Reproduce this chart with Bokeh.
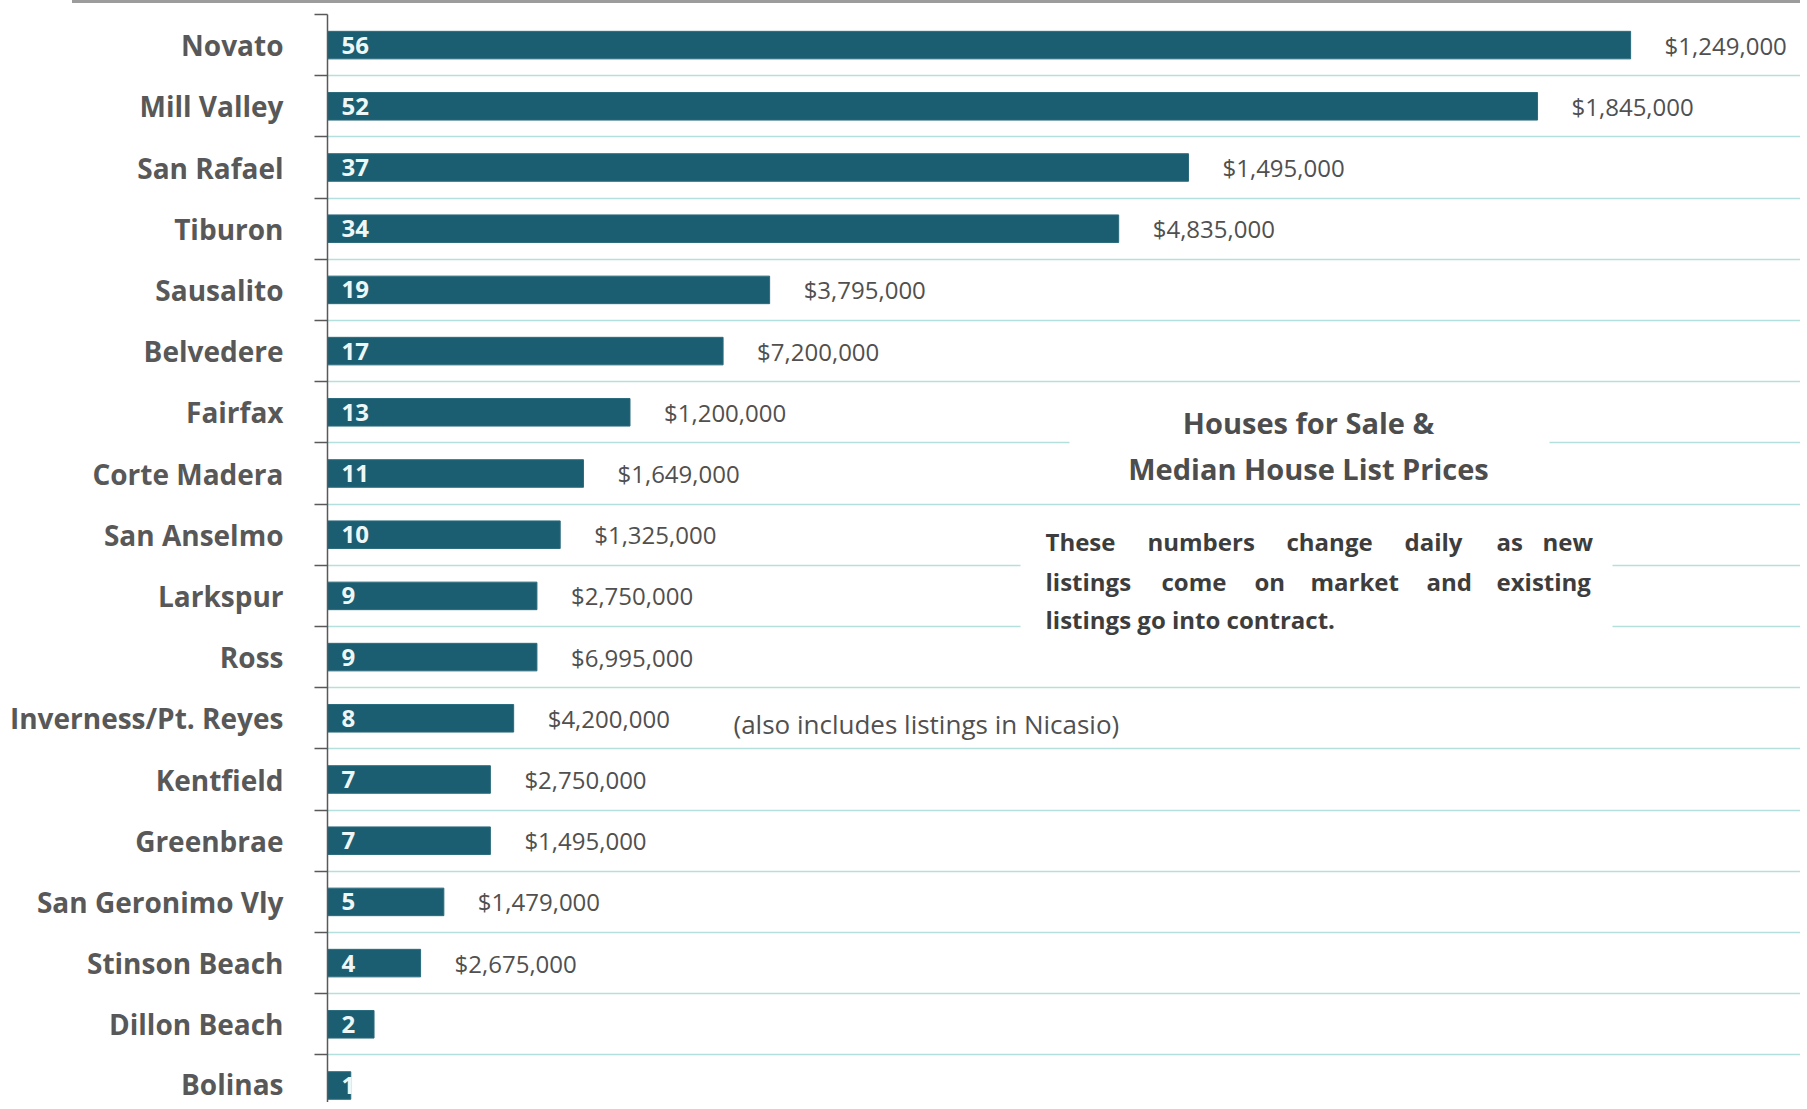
from bokeh.plotting import figure
from bokeh.models import ColumnDataSource, Range1d, FixedTicker, BoxAnnotation, Label
from bokeh.embed import file_html
from bokeh.resources import INLINE
from bokeh.core.properties import value

# ---------------- data ----------------
towns = ["Novato", "Mill Valley", "San Rafael", "Tiburon", "Sausalito", "Belvedere",
         "Fairfax", "Corte Madera", "San Anselmo", "Larkspur", "Ross",
         "Inverness/Pt. Reyes", "Kentfield", "Greenbrae", "San Geronimo Vly",
         "Stinson Beach", "Dillon Beach", "Bolinas"]
listings = [56, 52, 37, 34, 19, 17, 13, 11, 10, 9, 9, 8, 7, 7, 5, 4, 2, 1]
median_prices = [1249000, 1845000, 1495000, 4835000, 3795000, 7200000, 1200000,
                 1649000, 1325000, 2750000, 6995000, 4200000, 2750000, 1495000,
                 1479000, 2675000, None, None]

title_lines = ["Houses for Sale &", "Median House List Prices"]
note_lines = [["These", "numbers", "change", "daily", "as", "new"],
              ["listings", "come", "on", "market", "and", "existing"],
              ["listings go into contract."]]
nicasio_note = "(also includes listings in Nicasio)"

# ---------------- layout helpers ----------------
FONT = value("Open Sans")
PX_PER_UNIT = 23.27
ROW_PX = 61.2
AXIS_PX = 327      # page x of the value axis
TOP_PX = 14        # page y of the first row boundary
BAND_X = 72        # grey rule along the top starts here
W, H = 1800, 1102


def px_x(px):
    return (px - AXIS_PX) / PX_PER_UNIT


def px_y(py):
    return (py - TOP_PX) / ROW_PX - 0.5


idx = list(range(len(towns)))
src = ColumnDataSource(dict(
    idx=idx,
    listings=listings,
    count_text=[str(v) for v in listings],
    price_text=[f"${p:,}" if p else "" for p in median_prices],
))

p = figure(width=W, height=H, output_backend="svg", toolbar_location=None,
           x_range=Range1d(0, px_x(W)),
           y_range=Range1d(px_y(H), -0.5),
           min_border_left=AXIS_PX, min_border_right=0,
           min_border_top=TOP_PX, min_border_bottom=0)
p.outline_line_color = None
p.background_fill_color = "white"
p.border_fill_color = None
# grey rule along the top of the page, drawn as the host element's background
p.styles = {
    "background": f"linear-gradient(#9c9c9c, #9c9c9c) no-repeat {BAND_X}px 0px / "
                  f"{W - BAND_X}px 3px, white",
}

# axes / grid
ticker = FixedTicker(ticks=idx, minor_ticks=[i - 0.5 for i in range(len(towns) + 1)])
p.yaxis.ticker = ticker
p.yaxis.major_label_overrides = {i: t for i, t in enumerate(towns)}
p.yaxis.major_tick_out = 0
p.yaxis.major_tick_in = 0
p.yaxis.minor_tick_out = 13
p.yaxis.minor_tick_in = 0
p.yaxis.minor_tick_line_color = "#595959"
p.yaxis.minor_tick_line_width = 1.5
p.yaxis.axis_line_color = "#595959"
p.yaxis.axis_line_width = 1.5
p.yaxis.major_label_standoff = 31
p.yaxis.major_label_text_font = "Open Sans"
p.yaxis.major_label_text_font_style = "bold"
p.yaxis.major_label_text_font_size = "28px"
p.yaxis.major_label_text_color = "#585858"
p.xaxis.visible = False

p.xgrid.grid_line_color = None
p.ygrid.ticker = ticker
p.ygrid.grid_line_color = None
p.ygrid.minor_grid_line_color = "#b3dfdc"
p.ygrid.minor_grid_line_width = 1.5

# bars
p.hbar(y="idx", left=0, right="listings", height=0.45, source=src,
       fill_color="#1b5e72", line_color="#2a6b7d", line_width=1)

# value labels inside bars
p.text(x=0, y="idx", text="count_text", source=src, x_offset=14,
       text_align="left", text_baseline="middle", text_font=FONT,
       text_font_style="bold", text_font_size="24px", text_color="#eef7f7")

# price labels
p.text(x="listings", y="idx", text="price_text", source=src, x_offset=34,
       text_align="left", text_baseline="middle", text_font=FONT,
       text_font_size="24px", text_color="#505050")

# white boxes behind the text block
p.add_layout(BoxAnnotation(left=px_x(1069), right=px_x(1549), top=6.3, bottom=6.7,
                           fill_color="white", fill_alpha=1, line_color=None))
p.add_layout(BoxAnnotation(left=px_x(1020), right=px_x(1612), top=8.3, bottom=9.7,
                           fill_color="white", fill_alpha=1, line_color=None))

# title
for line, py in zip(title_lines, [422, 468]):
    p.add_layout(Label(x=px_x(1308), y=px_y(py), text=line, text_align="center",
                       text_baseline="middle", text_font="Open Sans",
                       text_font_style="bold", text_font_size="29px",
                       text_color="#4d4d4d"))

# justified note text
word_starts = [[1045, 1147, 1286, 1404, 1496, 1542],
               [1045, 1161, 1254, 1310, 1426, 1496],
               [1045]]
for words, starts, py in zip(note_lines, word_starts, [541, 581, 619]):
    for w, sx in zip(words, starts):
        p.add_layout(Label(x=px_x(sx), y=px_y(py), text=w, text_align="left",
                           text_baseline="middle", text_font="Open Sans",
                           text_font_style="bold", text_font_size="24px",
                           text_color="#3d3d3d"))

# Nicasio note
p.add_layout(Label(x=px_x(733), y=11.1, text=nicasio_note, text_align="left",
                   text_baseline="middle", text_font="Open Sans",
                   text_font_size="26px", text_color="#505050"))

open("out.html", "w").write(file_html(p, INLINE))
